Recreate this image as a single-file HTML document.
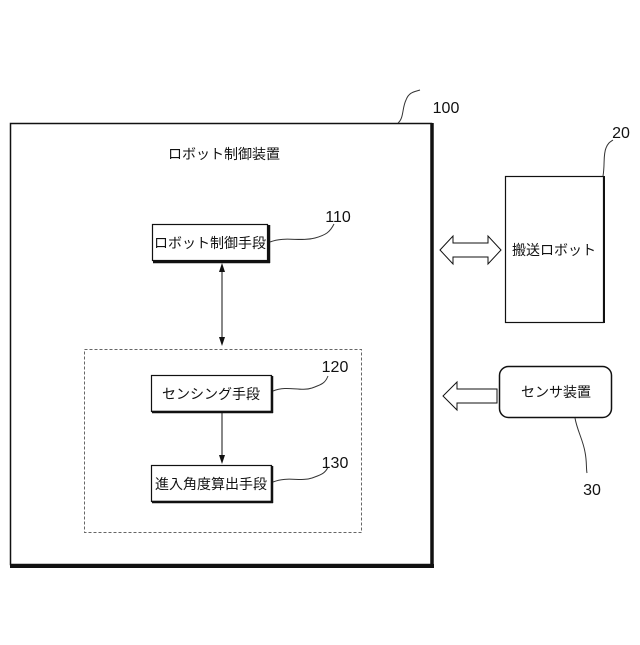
<!DOCTYPE html>
<html><head><meta charset="utf-8"><style>
body{margin:0;background:#fff;}
svg text{font-family:"Liberation Sans","Noto Sans CJK JP",sans-serif;fill:#111;}
</style></head><body>
<svg width="640" height="640" viewBox="0 0 640 640" xmlns="http://www.w3.org/2000/svg">
<rect width="640" height="640" fill="#fff"/>
<!-- main box -->
<rect x="10.5" y="123.5" width="421" height="441" fill="none" stroke="#111" stroke-width="1.5"/>
<line x1="432" y1="123" x2="432" y2="567" stroke="#111" stroke-width="3.5"/>
<line x1="10" y1="566" x2="434" y2="566" stroke="#111" stroke-width="4"/>
<text x="224" y="159" font-size="14" text-anchor="middle">ロボット制御装置</text>
<path d="M398 123 C404 118,402 108,406 100 C409 92,414 92,420 90" fill="none" stroke="#333" stroke-width="1"/>
<text x="446" y="113" font-size="16" text-anchor="middle">100</text>
<!-- 110 -->
<rect x="152.5" y="224.5" width="115" height="36" fill="#fff" stroke="#111" stroke-width="1.2"/>
<line x1="153" y1="262" x2="270" y2="262" stroke="#111" stroke-width="2.5"/>
<line x1="269" y1="225" x2="269" y2="263" stroke="#111" stroke-width="2.5"/>
<text x="210" y="248" font-size="14" text-anchor="middle">ロボット制御手段</text>
<path d="M270 242 C285 236,300 242,315 238 C326 235,330 232,334 224" fill="none" stroke="#333" stroke-width="1"/>
<text x="338" y="222" font-size="16" text-anchor="middle">110</text>
<!-- vertical double arrow -->
<line x1="222" y1="270" x2="222" y2="339" stroke="#111" stroke-width="1"/>
<path d="M222 263 L219 272 L225 272 Z" fill="#111"/>
<path d="M222 346 L219 337 L225 337 Z" fill="#111"/>
<!-- dashed -->
<rect x="84.5" y="349.5" width="277" height="183" fill="none" stroke="#666" stroke-width="1" stroke-dasharray="3,2"/>
<!-- 120 -->
<rect x="151.5" y="375.5" width="120" height="36" fill="#fff" stroke="#111" stroke-width="1.2"/>
<line x1="152" y1="412" x2="273" y2="412" stroke="#111" stroke-width="2.5"/>
<line x1="272" y1="376" x2="272" y2="413" stroke="#111" stroke-width="2.5"/>
<text x="211" y="399" font-size="14" text-anchor="middle">センシング手段</text>
<path d="M273 391 C288 385,300 392,312 388 C320 385,325 384,328 376" fill="none" stroke="#333" stroke-width="1"/>
<text x="335" y="372" font-size="16" text-anchor="middle">120</text>
<line x1="222" y1="413" x2="222" y2="456" stroke="#111" stroke-width="1"/>
<path d="M222 464 L219 455 L225 455 Z" fill="#111"/>
<!-- 130 -->
<rect x="151.5" y="465.5" width="120" height="36" fill="#fff" stroke="#111" stroke-width="1.2"/>
<line x1="152" y1="502" x2="273" y2="502" stroke="#111" stroke-width="2.5"/>
<line x1="272" y1="466" x2="272" y2="503" stroke="#111" stroke-width="2.5"/>
<text x="211" y="489" font-size="14" text-anchor="middle">進入角度算出手段</text>
<path d="M273 482 C288 476,300 482,312 478 C320 475,325 474,328 467" fill="none" stroke="#333" stroke-width="1"/>
<text x="335" y="468" font-size="16" text-anchor="middle">130</text>
<!-- 20 -->
<rect x="505.5" y="176.5" width="98" height="146" fill="#fff" stroke="#111" stroke-width="1.2"/>
<line x1="604" y1="176" x2="604" y2="323" stroke="#111" stroke-width="2"/>
<text x="554" y="255" font-size="14" text-anchor="middle">搬送ロボット</text>
<path d="M603 176 C605 165,603 155,606 148 C608 143,610 142,613 140" fill="none" stroke="#333" stroke-width="1"/>
<text x="621" y="138" font-size="16" text-anchor="middle">20</text>
<!-- double hollow arrow -->
<path d="M440 250 L453 236 L453 243 L488 243 L488 236 L501 250 L488 264 L488 257 L453 257 L453 264 Z" fill="#fff" stroke="#111" stroke-width="1"/>
<!-- sensor -->
<rect x="499.5" y="366.5" width="112" height="51" rx="9" fill="#fff" stroke="#111" stroke-width="1.5"/>
<text x="556" y="397" font-size="14" text-anchor="middle">センサ装置</text>
<path d="M497 389 L457 389 L457 382 L443 396 L457 410 L457 403 L497 403 Z" fill="#fff" stroke="#111" stroke-width="1"/>
<path d="M575 418 C577 430,583 440,585 452 C587 462,586 468,587 473" fill="none" stroke="#333" stroke-width="1"/>
<text x="592" y="495" font-size="16" text-anchor="middle">30</text>
</svg>
</body></html>
